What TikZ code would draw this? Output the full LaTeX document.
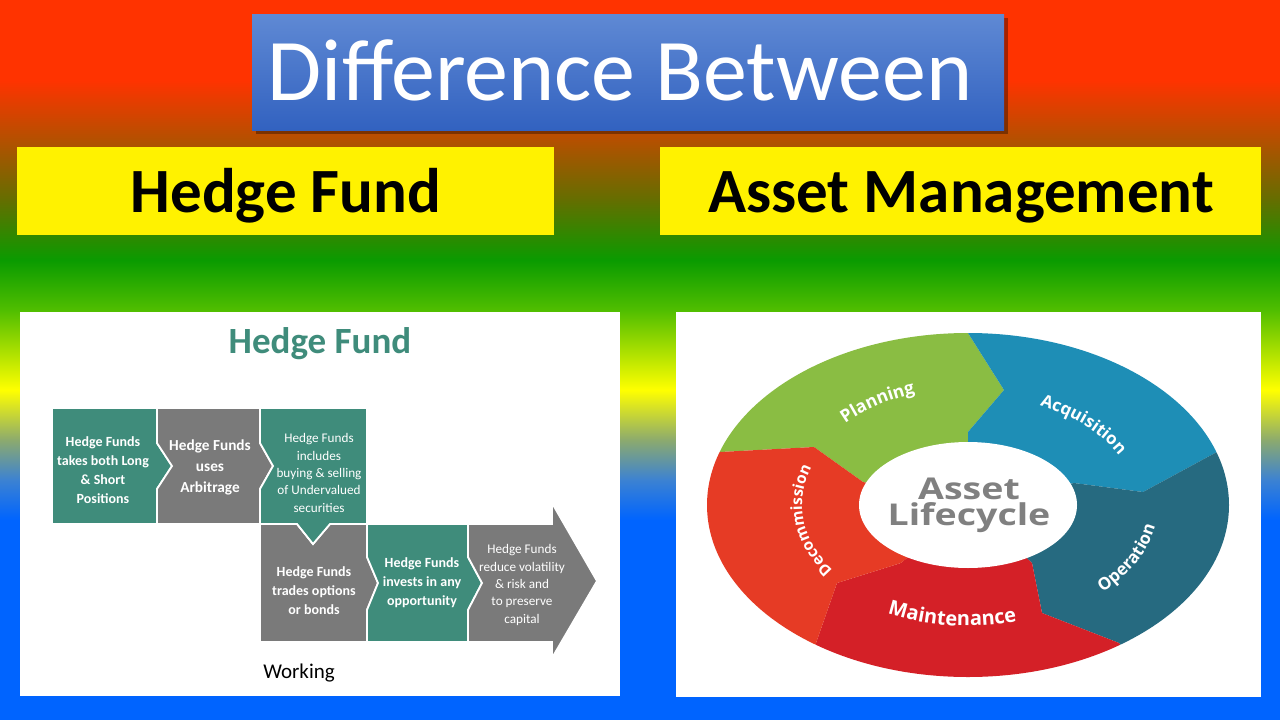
\documentclass[tikz,border=0pt]{standalone}
\usepackage{fontspec}
\usetikzlibrary{decorations.text}
\setmainfont{Carlito}
\newfontfamily\osans{Open Sans}
\newcommand\lfPlan{\osans\bfseries\fontsize{17.5}{20}\selectfont}
\newcommand\lfAcq{\osans\bfseries\fontsize{17}{20}\selectfont}
\newcommand\lfOper{\osans\bfseries\fontsize{17}{20}\selectfont}
\newcommand\lfMain{\osans\bfseries\fontsize{20}{22}\selectfont}
\newcommand\lfDec{\osans\bfseries\fontsize{15.5}{18}\selectfont}
\definecolor{cred}{RGB}{255,51,0}
\definecolor{c140}{RGB}{180,80,0}
\definecolor{c200}{RGB}{100,110,0}
\definecolor{c260}{RGB}{10,155,0}
\definecolor{c310}{RGB}{80,190,0}
\definecolor{cyel}{RGB}{255,255,0}
\definecolor{c440}{RGB}{140,170,110}
\definecolor{c480}{RGB}{60,130,210}
\definecolor{cblue}{RGB}{0,100,255}
\definecolor{tbtop}{RGB}{95,137,212}
\definecolor{tbbot}{RGB}{50,98,192}
\definecolor{cteal}{RGB}{63,140,123}
\definecolor{cgray}{RGB}{122,122,122}
\definecolor{cplan}{RGB}{138,189,67}
\definecolor{cacq}{RGB}{30,142,182}
\definecolor{cop}{RGB}{38,106,128}
\definecolor{cmain}{RGB}{212,32,39}
\definecolor{cdec}{RGB}{230,59,37}
\definecolor{clife}{RGB}{128,128,128}
\pgfdeclareverticalshading{bgshade}{100bp}{color(0bp)=(cblue); color(38.89bp)=(cblue); color(41.67bp)=(c480); color(44.44bp)=(c440); color(47.92bp)=(cyel); color(53.47bp)=(c310); color(56.94bp)=(c260); color(61.11bp)=(c200); color(65.28bp)=(c140); color(69.44bp)=(cred); color(100bp)=(cred)}
\begin{document}
\begin{tikzpicture}[x=1pt,y=-1pt,
  sep/.style={draw=white,line width=1.8pt,line join=miter},
  wtxt/.style={text=white,align=center,inner sep=0pt,font=\bfseries\fontsize{14}{19}\selectfont},
  wtxtr/.style={text=white,align=center,inner sep=0pt,font=\fontsize{13.2}{17.3}\selectfont},
  curvelab/.style={decorate,decoration={text along path,text color=white,text align=center,text={#1}}},
  ybox/.style={fill=yellow},
  ytxt/.style={anchor=base,inner sep=0pt,text=black,font=\bfseries\fontsize{63}{70}\selectfont}]
\useasboundingbox (0,0) rectangle (1280,720);
% background
\fill[shading=bgshade] (0,0) rectangle (1280,720);
% title box
\fill[black,opacity=0.35] (256,18) rectangle (1008,134);
\shade[top color=tbtop,bottom color=tbbot] (252,14) rectangle (1004,130);
\node[anchor=base,inner sep=0pt,text=white,font=\fontsize{88}{92}\selectfont] (title) at (620,100) {Difference Between};
% yellow boxes
\fill[ybox] (17,147) rectangle (554,235);
\fill[ybox] (660,147) rectangle (1261,235);
\node[ytxt] (hf) at (286,212) {Hedge Fund};
\node[ytxt] (am) at (961,212) {Asset Management};
% panels
\fill[white] (20,312) rectangle (620,696);
\fill[white] (676,312) rectangle (1261,697);
% ---- left panel ----
\node[anchor=base,inner sep=0pt,text=cteal,font=\bfseries\fontsize{37}{40}\selectfont] (hft) at (320,353) {Hedge Fund};
\filldraw[fill=cteal,sep] (52,408) -- (157,408) -- (157,443) -- (172,466) -- (157,489) -- (157,524) -- (52,524) -- cycle;
\filldraw[fill=cgray,sep] (157,408) -- (260,408) -- (260,443) -- (273,466) -- (260,489) -- (260,524) -- (157,524) -- (157,489) -- (172,466) -- (157,443) -- cycle;
\filldraw[fill=cgray,sep] (260,524) -- (297,524) -- (313,544) -- (330,524) -- (367,524) -- (367,557) -- (378,583) -- (367,610) -- (367,642) -- (260,642) -- cycle;
\filldraw[fill=cteal,sep] (260,408) -- (367,408) -- (367,524) -- (330,524) -- (313,544) -- (297,524) -- (260,524) -- (260,489) -- (273,466) -- (260,443) -- cycle;
\filldraw[fill=cteal,sep] (367,524) -- (468,524) -- (468,557) -- (482,583) -- (468,610) -- (468,642) -- (367,642) -- (367,610) -- (378,583) -- (367,557) -- cycle;
\filldraw[fill=cgray,sep] (468,524) -- (552,524) -- (552,503) -- (597,581) -- (552,658) -- (552,642) -- (468,642) -- (468,610) -- (482,583) -- (468,557) -- cycle;
\node[wtxt] (t1) at (103,470) {Hedge Funds\\takes both Long\\\& Short\\Positions};
\node[wtxt,font=\bfseries\fontsize{15.3}{21}\selectfont] (t2) at (210,467) {Hedge Funds\\uses\\Arbitrage};
\node[wtxtr] (t3) at (319,473) {Hedge Funds\\includes\\buying \& selling\\of Undervalued\\securities};
\node[wtxt] (t4) at (314,591) {Hedge Funds\\trades options\\or bonds};
\node[wtxt] (t5) at (422,583) {Hedge Funds\\invests in any\\opportunity};
\node[wtxtr] (t6) at (522,585) {Hedge Funds\\reduce volatility\\\& risk and\\to preserve\\capital};
\node[anchor=base,inner sep=0pt,text=black,font=\fontsize{21}{24}\selectfont] (work) at (299,678) {Working};
% ---- right panel: cycle ----
\begin{scope}
\clip (968,505) ellipse [x radius=261, y radius=172];
\fill[cplan] (968,505) -- (863,482) -- (814,447) -- (720,452) -- (680,454) -- (680,300) -- (968,300) -- (968,333) -- (1004,390) -- (968,432) -- cycle;
\fill[cacq] (968,505) -- (968,432) -- (1004,390) -- (968,333) -- (968,300) -- (1260,300) -- (1260,430) -- (1215,453) -- (1143,492) -- (1074,483) -- cycle;
\fill[cop] (968,505) -- (1074,483) -- (1143,492) -- (1215,453) -- (1260,430) -- (1260,720) -- (1180,720) -- (1119,643) -- (1042,613) -- (1032,563) -- cycle;
\fill[cmain] (968,505) -- (1032,563) -- (1042,613) -- (1119,643) -- (1180,720) -- (790,720) -- (816,643) -- (837,583) -- (901,563) -- cycle;
\fill[cdec] (968,505) -- (901,563) -- (837,583) -- (816,643) -- (790,720) -- (680,720) -- (680,454) -- (720,452) -- (814,447) -- (863,482) -- cycle;
\end{scope}
\fill[white] (968,505) ellipse [x radius=109, y radius=63];
\node[inner sep=0pt,text=clife,align=center,xscale=1.25,font=\osans\bfseries\fontsize{30}{26}\selectfont] (life) at (969,505) {Asset\\Lifecycle};
\path[curvelab={|\lfPlan|Planning}] plot[domain=195:275,samples=41] ({968+172*cos(\x)},{505+117*sin(\x)});
\path[curvelab={|\lfAcq|Acquisition}] plot[domain=276:361,samples=41] ({968+169*cos(\x)},{505+110*sin(\x)});
\path[curvelab={|\lfDec|Decommission}] plot[domain=128:218,samples=41] ({968+166*cos(\x)},{505+112*sin(\x)});
\path[curvelab={|\lfOper|Operation}] plot[domain=-64:16,samples=41] ({968+190*cos(-\x)},{505+124*sin(-\x)});
\path[curvelab={|\lfMain|Maintenance}] plot[domain=-140:-52,samples=41] ({968+181*cos(-\x)},{505+121*sin(-\x)});
\end{tikzpicture}
\end{document}
